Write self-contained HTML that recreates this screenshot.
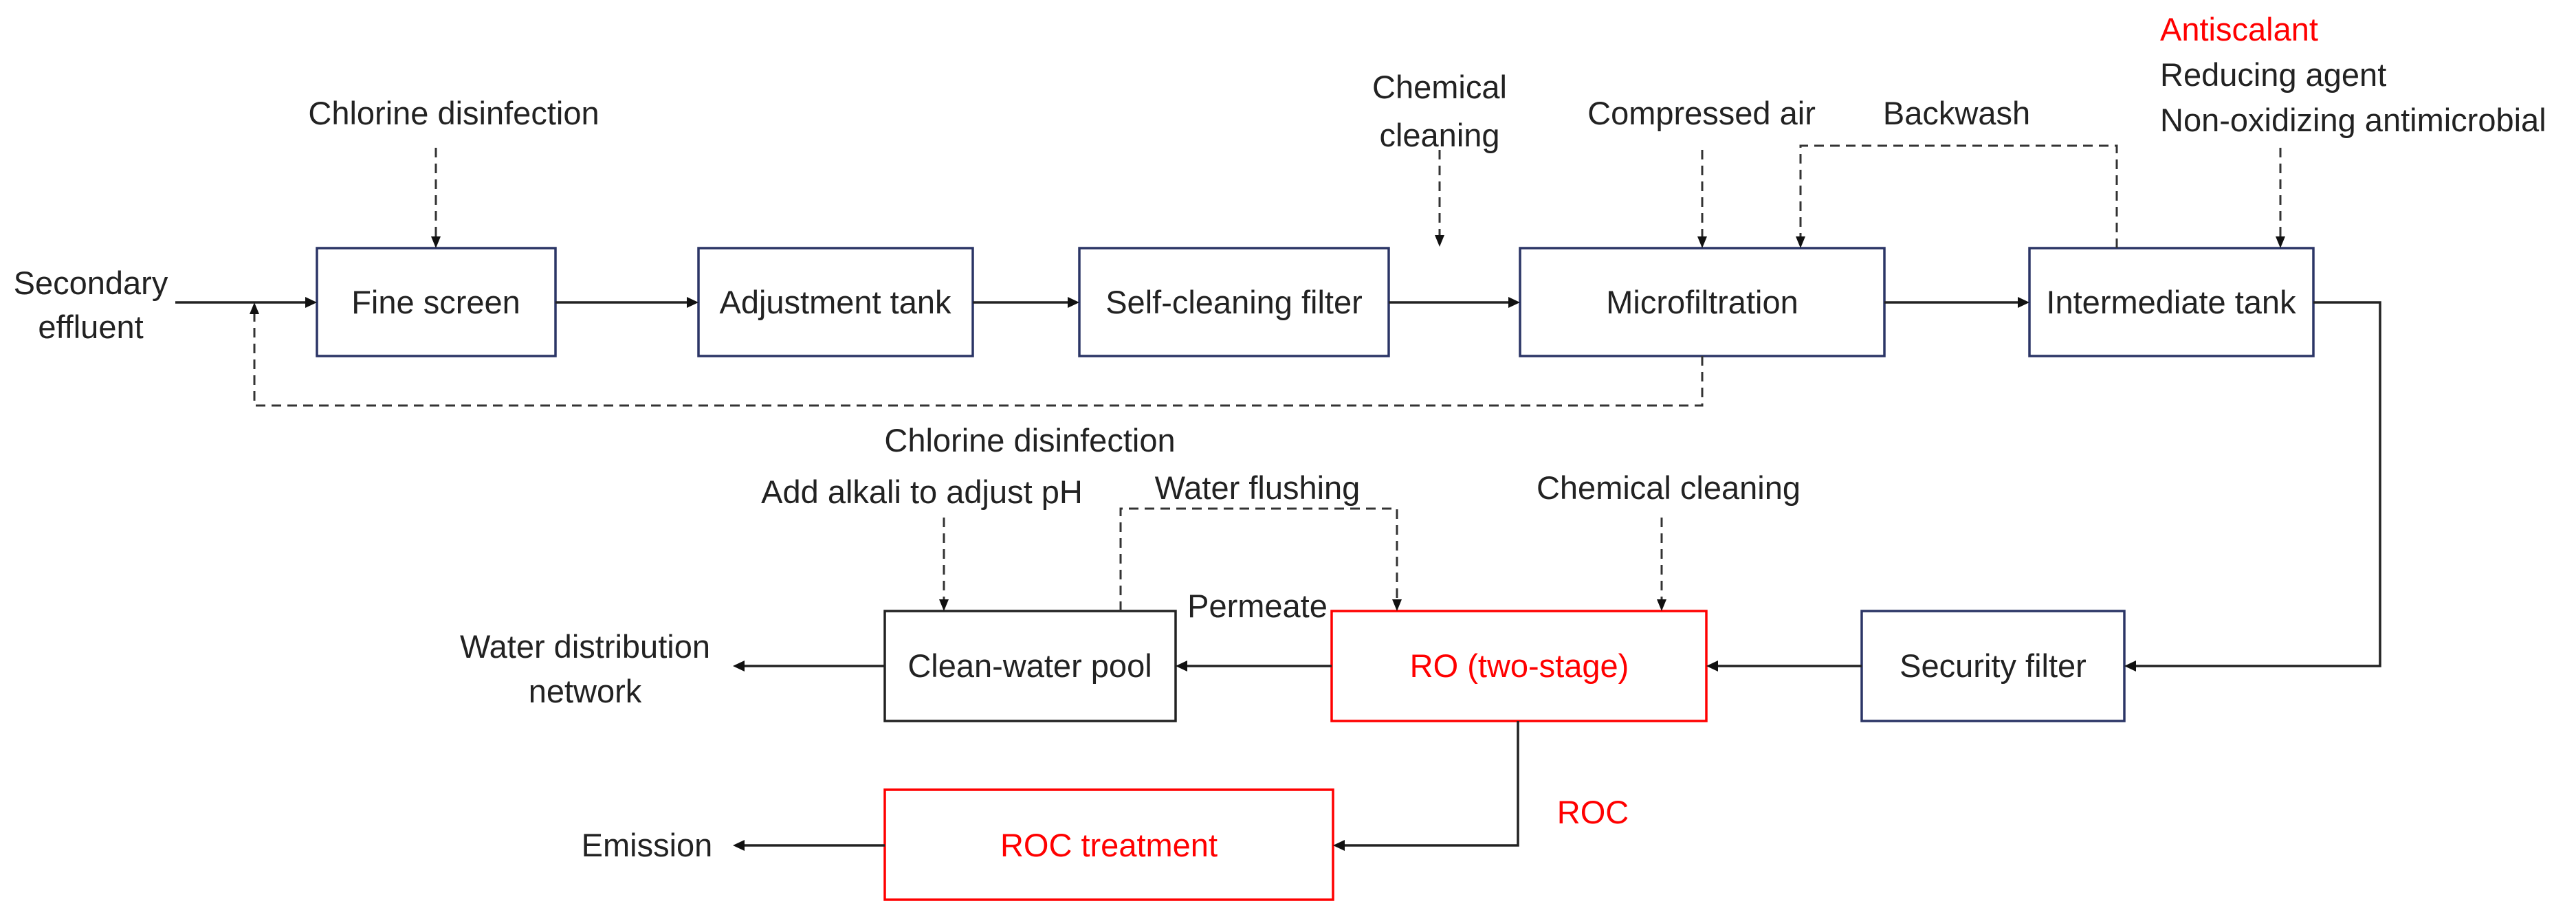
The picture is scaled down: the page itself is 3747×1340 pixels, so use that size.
<!DOCTYPE html>
<html><head><meta charset="utf-8"><style>
html,body{margin:0;padding:0;background:#fff;}
svg{display:block;}
text{font-family:"Liberation Sans",sans-serif;font-size:47px;fill:#222;}
</style></head><body>
<svg width="3747" height="1340" viewBox="0 0 3747 1340" xmlns="http://www.w3.org/2000/svg">
<g fill="none" stroke-width="3.5">
<rect x="461" y="361" width="347" height="157" stroke="#2b3566"/>
<rect x="1016" y="361" width="399" height="157" stroke="#2b3566"/>
<rect x="1570" y="361" width="450" height="157" stroke="#2b3566"/>
<rect x="2211" y="361" width="530" height="157" stroke="#2b3566"/>
<rect x="2952" y="361" width="413" height="157" stroke="#2b3566"/>
<rect x="1287" y="889" width="423" height="160" stroke="#222"/>
<rect x="1937" y="889" width="545" height="160" stroke="#f00"/>
<rect x="2708" y="889" width="382" height="160" stroke="#2b3566"/>
<rect x="1287" y="1149" width="652" height="160" stroke="#f00"/>
</g>
<g stroke="#222" stroke-width="3.5" fill="none">
<line x1="255" y1="440" x2="446" y2="440"/>
<line x1="808" y1="440" x2="1001" y2="440"/>
<line x1="1415" y1="440" x2="1555" y2="440"/>
<line x1="2020" y1="440" x2="2196" y2="440"/>
<line x1="2741" y1="440" x2="2937" y2="440"/>
<polyline points="3365,440 3462,440 3462,969 3105,969"/>
<line x1="2708" y1="969" x2="2497" y2="969"/>
<line x1="1937" y1="969" x2="1725" y2="969"/>
<line x1="1287" y1="969" x2="1081" y2="969"/>
<polyline points="2208,1049 2208,1230 1954,1230"/>
<line x1="1287" y1="1230" x2="1081" y2="1230"/>
</g>
<g stroke="#333" stroke-width="3" fill="none" stroke-dasharray="14,9">
<line x1="634" y1="215" x2="634" y2="346"/>
<polyline points="2476,518 2476,590 370,590 370,455"/>
<line x1="2094" y1="218" x2="2094" y2="344"/>
<line x1="2476" y1="218" x2="2476" y2="346"/>
<polyline points="3079,361 3079,212 2619,212 2619,346"/>
<line x1="3317" y1="215" x2="3317" y2="346"/>
<line x1="1373" y1="753" x2="1373" y2="874"/>
<polyline points="1630,889 1630,740 2032,740 2032,874"/>
<line x1="2417" y1="753" x2="2417" y2="874"/>
</g>
<g fill="#111">
<polygon points="461,440 444,432 444,448"/>
<polygon points="1016,440 999,432 999,448"/>
<polygon points="1570,440 1553,432 1553,448"/>
<polygon points="2211,440 2194,432 2194,448"/>
<polygon points="2952,440 2935,432 2935,448"/>
<polygon points="3090,969 3107,961 3107,977"/>
<polygon points="2482,969 2499,961 2499,977"/>
<polygon points="1710,969 1727,961 1727,977"/>
<polygon points="1066,969 1083,961 1083,977"/>
<polygon points="1939,1230 1956,1222 1956,1238"/>
<polygon points="1066,1230 1083,1222 1083,1238"/>
<polygon points="634,361 627,344 641,344"/>
<polygon points="370,440 363,457 377,457"/>
<polygon points="2094,359 2087,342 2101,342"/>
<polygon points="2476,361 2469,344 2483,344"/>
<polygon points="2619,361 2612,344 2626,344"/>
<polygon points="3317,361 3310,344 3324,344"/>
<polygon points="1373,889 1366,872 1380,872"/>
<polygon points="2032,889 2025,872 2039,872"/>
<polygon points="2417,889 2410,872 2424,872"/>
</g>
<g text-anchor="middle">
<text x="132" y="428">Secondary</text>
<text x="132" y="492">effluent</text>
<text x="660" y="181">Chlorine disinfection</text>
<text x="634" y="456">Fine screen</text>
<text x="1215" y="456">Adjustment tank</text>
<text x="1795" y="456">Self-cleaning filter</text>
<text x="2476" y="456">Microfiltration</text>
<text x="3158" y="456">Intermediate tank</text>
<text x="2094" y="143">Chemical</text>
<text x="2094" y="213">cleaning</text>
<text x="2475" y="181">Compressed air</text>
<text x="2846" y="181">Backwash</text>
<text x="1498" y="657">Chlorine disinfection</text>
<text x="1341" y="732">Add alkali to adjust pH</text>
<text x="1829" y="726">Water flushing</text>
<text x="2427" y="726">Chemical cleaning</text>
<text x="1829" y="898">Permeate</text>
<text x="851" y="957">Water distribution</text>
<text x="851" y="1022">network</text>
<text x="1498" y="985">Clean-water pool</text>
<text x="2210" y="985" style="fill:#f00">RO (two-stage)</text>
<text x="2899" y="985">Security filter</text>
<text x="2317" y="1198" style="fill:#f00">ROC</text>
<text x="1613" y="1246" style="fill:#f00">ROC treatment</text>
<text x="941" y="1246">Emission</text>
</g>
<g text-anchor="start">
<text x="3142" y="59" style="fill:#f00">Antiscalant</text>
<text x="3142" y="125">Reducing agent</text>
<text x="3142" y="191">Non-oxidizing antimicrobial</text>
</g>
</svg>
</body></html>
